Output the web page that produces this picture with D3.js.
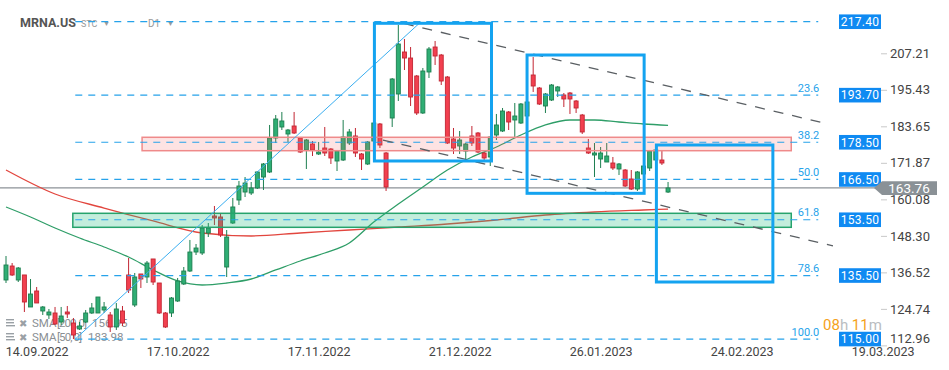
<!DOCTYPE html>
<html><head><meta charset="utf-8">
<script src="https://cdn.jsdelivr.net/npm/d3@7"></script>
<style>
body{margin:0;background:#fff;}
svg{display:block;font-family:Roboto,"Noto Sans",Arial,sans-serif;}
</style></head><body>
<svg id="chart" width="949" height="370"></svg>
<script>
// ---------- DATA ----------
const symbol = "MRNA.US";
const tickIndex  = [5, 28, 51, 74, 97, 120, 143];
const tickLabels = ["14.09.2022","17.10.2022","17.11.2022","21.12.2022","26.01.2023","24.02.2023","19.03.2023"];
const priceTicks = [207.21,195.43,183.65,171.87,160.08,148.30,136.52,124.74,112.96];

const open = [134.06,138.57,134.06,135.68,125.35,130.51,124.06,122.77,123.41,120.50,123.73,120.18,118.25,120.50,123.41,123.41,124.38,122.77,118.90,124.06,
135.68,125.99,136.00,135.03,140.84,133.09,123.41,123.41,127.28,132.77,
136.96,143.09,142.77,149.22,154.71,154.39,138.25,152.45,159.87,162.45,
162.13,163.75,167.29,168.91,179.88,183.43,181.17,183.75,179.88,176.01,
177.94,174.72,176.65,176.33,172.46,172.78,178.27,180.53,174.72,171.49,
178.91,184.40,175.04,186.33,194.08,207.63,205.69,199.89,187.95,201.18,
209.24,206.66,199.56,179.56,177.30,175.68,180.53,181.49,175.04,173.75,
180.85,182.14,188.27,185.69,184.72,186.98,200.21,196.01,190.21,192.14,
195.05,193.76,194.40,191.82,187.30,176.65,174.39,173.10,172.13,171.81,
169.88,169.55,166.65,163.42,168.26,170.20,172.78,172.78,162.45];
const high = [141.80,139.54,138.25,135.68,134.38,131.80,125.67,124.70,125.35,125.35,125.67,121.80,120.50,124.38,126.64,128.57,126.96,123.73,126.64,125.67,
141.16,136.32,136.00,140.19,140.84,133.09,123.73,128.57,134.71,138.25,
146.97,145.67,151.80,152.45,157.94,155.68,150.19,160.52,166.00,167.29,
165.68,169.23,171.81,184.08,187.30,188.27,182.79,188.27,180.20,179.56,
178.91,178.59,183.43,176.65,176.01,185.69,182.79,183.11,175.04,178.91,
185.04,184.72,175.36,199.24,216.34,211.83,209.24,200.21,202.47,209.24,
211.18,206.99,199.89,183.11,182.14,178.27,183.75,181.82,175.36,180.53,
187.63,189.56,188.59,191.17,191.17,191.82,206.02,196.34,194.40,197.30,
196.66,194.40,194.73,192.14,187.63,179.56,178.27,176.97,178.27,173.75,
171.81,169.88,169.55,169.23,171.17,176.01,176.97,176.01,165.68];
const low = [133.09,135.35,133.41,123.73,125.35,126.64,122.77,121.48,119.54,119.54,121.80,115.00,117.93,120.18,123.09,123.41,123.41,117.28,117.93,119.22,
129.86,125.35,131.48,133.09,132.44,123.09,118.57,122.12,126.96,132.44,
136.64,142.12,142.12,147.93,151.80,147.93,135.03,152.13,158.26,160.84,
161.49,163.42,163.10,168.59,178.27,182.46,178.59,181.17,175.04,169.88,
174.07,174.39,174.07,171.49,169.23,172.46,177.62,173.75,169.55,171.17,
178.59,176.65,162.78,183.43,191.82,201.82,190.21,187.30,187.63,199.24,
203.44,196.98,177.94,174.72,174.72,173.10,177.30,175.04,172.78,170.84,
179.23,181.82,182.46,179.88,184.40,186.66,194.73,190.53,187.95,191.82,
193.11,189.88,187.63,187.95,181.17,174.72,167.29,170.20,172.13,169.55,
167.94,164.07,163.10,162.78,167.94,169.23,172.46,171.17,162.13];
const close = [138.90,135.68,137.93,126.96,129.54,126.64,125.35,123.73,119.86,122.44,123.09,116.31,119.22,123.41,125.03,128.57,125.35,118.90,124.70,120.18,
130.83,135.03,134.38,139.54,133.41,123.41,118.90,128.25,133.74,136.96,
143.09,144.38,150.84,150.84,154.07,148.58,147.93,157.62,164.39,165.36,
163.75,168.91,171.49,179.88,186.01,185.37,182.46,181.49,175.36,179.23,
176.01,175.36,175.04,173.43,175.68,180.20,181.82,175.04,173.10,178.59,
184.72,177.62,164.07,198.92,210.21,205.69,193.11,187.95,201.50,208.60,
206.34,198.27,178.27,176.65,179.23,177.94,178.27,175.36,173.43,180.20,
184.08,188.59,185.04,186.98,190.85,191.50,196.66,190.85,194.08,196.98,
196.34,192.47,192.47,189.56,181.82,175.04,175.04,175.04,174.07,170.20,
171.49,164.39,163.42,168.91,170.84,175.68,176.01,171.81,163.76];

const sma50Idx = [0,4,8,12,16,20,24,28,32,36,40,44,48,52,56,60,64,68,72,76,80,84,88,92,96,100,104,108];
const sma50Val = [157.62,154.39,150.84,147.61,144.71,141.48,137.29,133.74,132.44,133.09,134.38,137.29,140.19,142.77,146.00,152.77,158.58,164.07,169.55,173.75,176.97,180.85,184.08,185.69,185.69,185.04,184.40,183.98];
const sma200Idx = [0,8,16,24,32,40,48,56,64,72,80,88,96,104,108];
const sma200Val = [169.55,161.81,157.29,153.10,149.23,148.26,149.23,150.19,151.16,152.13,153.42,155.03,156.00,156.65,156.95];

const fibLevels = [217.40,193.70,178.50,166.50,153.50,135.50,115.00];
const fibRatios = ["","23.6","38.2","50.0","61.8","78.6","100.0"];
const lastPrice = 163.76;

// annotations in (bar index, price) space
const fibStart = [11.3, 115.00], fibEnd = [67.7, 217.40], fibLineEnd = 132.5;
const trendUpper = [[64.9, 216.83],[134.1, 184.40]];
const trendLower = [[61.5, 179.23],[134.9, 145.10]];
const zoneRed   = [22.2, 128.1, 180.11, 175.78];
const zoneGreen = [10.9, 128.1, 155.58, 151.06];
const boxes = [[60.1, 79.2, 216.89, 172.46],[85.0, 104.1, 206.66, 162.03],[106.1, 125.1, 177.62, 133.41]];

// ---------- SCALES ----------
const svg = d3.select("#chart");
const x = d3.scaleLinear().domain([0, 143]).range([6, 882.6]);
const y = d3.scaleLinear().domain([112.76, 224.41]).range([346, 0]);

const GREEN = "#2fae74", GREEN_D = "#1d7f50", RED = "#f2404f", RED_D = "#c22633";
const FIB = "#26a2ea", BOX = "#14a3f0", LABEL = "#0f8af2";

// legend (under candles)
const leg = svg.append("g").attr("fill","#8a8f94").style("font-size","11.5px");
[["SMA","[200, 0]", sma200Val[sma200Val.length-1]],["SMA","[50, 0]", sma50Val[sma50Val.length-1]]].forEach((d,k)=>{
  const yy = 327 + k*14;
  const g = leg.append("g");
  for(let r=0;r<3;r++) g.append("rect").attr("x",6).attr("y",yy-8+r*3).attr("width",r==2?9:8).attr("height",1.4).attr("fill","#9aa0a5");
  g.append("text").attr("x",19).attr("y",yy).text("✖").style("font-size","10px").attr("fill","#9aa0a5");
  g.append("text").attr("x",32).attr("y",yy).text(d[0]);
  g.append("text").attr("x",57).attr("y",yy).text(d[1]).attr("textLength", k==0?30:25);
  g.append("text").attr("x",k==0?92:88).attr("y",yy).text(d[2].toFixed(2));
});

// title
const tg = svg.append("g").attr("fill","#999");
tg.append("text").attr("x",20).attr("y",27).text(symbol).attr("fill","#555").style("font-weight","bold").style("font-size","12.5px");
tg.append("text").attr("x",81).attr("y",27).text("STC").style("font-size","9px");
tg.append("text").attr("x",103).attr("y",26).text("▼").style("font-size","7px");
tg.append("text").attr("x",148).attr("y",27).text("D1").style("font-size","10px");
tg.append("text").attr("x",167).attr("y",26).text("▼").style("font-size","7px");

// current price line
svg.append("line").attr("x1",0).attr("x2",880).attr("y1",y(lastPrice)).attr("y2",y(lastPrice))
  .attr("stroke","#8c9297").attr("stroke-width",1.2);

// SMA lines
const line = d3.line().x(d=>x(d[0])).y(d=>y(d[1])).curve(d3.curveMonotoneX);
svg.append("path").attr("d", line(sma200Idx.map((v,k)=>[v,sma200Val[k]])))
  .attr("fill","none").attr("stroke","#e2463e").attr("stroke-width",1.3);
svg.append("path").attr("d", line(sma50Idx.map((v,k)=>[v,sma50Val[k]])))
  .attr("fill","none").attr("stroke","#2f9e68").attr("stroke-width",1.3);

// candles
const cg = svg.append("g");
open.forEach((o,i)=>{
  const c = close[i], up = c >= o;
  const col = up ? GREEN : RED, dk = up ? GREEN_D : RED_D;
  cg.append("line").attr("x1",x(i)).attr("x2",x(i)).attr("y1",y(high[i])).attr("y2",y(low[i]))
    .attr("stroke",dk).attr("stroke-width",1);
  const top = y(Math.max(o,c)), bot = y(Math.min(o,c));
  cg.append("rect").attr("x",x(i)-2).attr("width",4).attr("y",top).attr("height",Math.max(1,bot-top))
    .attr("fill",col).attr("stroke",dk).attr("stroke-width",0.9);
});

// zones (over candles, translucent)
[[zoneRed,"rgba(242,100,100,0.18)","#ef8a8a"],[zoneGreen,"rgba(40,190,130,0.28)","#26a36c"]].forEach(([z,f,s])=>{
  svg.append("rect").attr("x",x(z[0])).attr("width",x(z[1])-x(z[0])).attr("y",y(z[2])).attr("height",y(z[3])-y(z[2]))
    .attr("fill",f).attr("stroke",s).attr("stroke-width",1.5);
});

// fib levels
const fg = svg.append("g");
fibLevels.forEach((p,k)=>{
  fg.append("line").attr("x1",x(fibStart[0])).attr("x2",x(fibLineEnd)).attr("y1",y(p)).attr("y2",y(p))
    .attr("stroke",FIB).attr("stroke-width",1.2).attr("stroke-dasharray","7,6");
  if(fibRatios[k]) fg.append("text").attr("x",x(fibLineEnd)+1).attr("y",y(p)-3.5).attr("text-anchor","end")
    .attr("fill",FIB).style("font-size","11px").text(fibRatios[k]);
});
fg.append("line").attr("x1",x(fibStart[0])).attr("y1",y(fibStart[1])).attr("x2",x(fibEnd[0])).attr("y2",y(fibEnd[1]))
  .attr("stroke","#3aaef0").attr("stroke-width",1);

// trend lines
[trendUpper, trendLower].forEach(t=>{
  svg.append("line").attr("x1",x(t[0][0])).attr("y1",y(t[0][1])).attr("x2",x(t[1][0])).attr("y2",y(t[1][1]))
    .attr("stroke","#5a5f63").attr("stroke-width",1.3).attr("stroke-dasharray","10,9");
});

// boxes
boxes.forEach(b=>{
  svg.append("rect").attr("x",x(b[0])).attr("width",x(b[1])-x(b[0])).attr("y",y(b[2])).attr("height",y(b[3])-y(b[2]))
    .attr("fill","none").attr("stroke",BOX).attr("stroke-width",3);
});

// right axis
const ax = svg.append("g").attr("transform","translate(881,0)")
  .call(d3.axisRight(y).tickValues(priceTicks).tickSize(6).tickPadding(3).tickFormat(d3.format(".2f")));
ax.select(".domain").remove();
ax.selectAll(".tick line").attr("stroke","#c8c8c8");
ax.selectAll(".tick text").attr("fill","#444").style("font-size","13px").style("font-family","Roboto,Arial,sans-serif");
ax.selectAll(".tick").filter(d=>d===112.96).select("text").attr("dy","-0.2em");

// fib price labels
fibLevels.forEach(p=>{
  svg.append("rect").attr("x",839).attr("width",42).attr("y",y(p)-7.3).attr("height",14.6).attr("fill",LABEL);
  svg.append("text").attr("x",860).attr("y",y(p)).attr("dy","0.36em").attr("text-anchor","middle")
    .attr("fill","#fff").style("font-size","12px").style("letter-spacing","0.3px").text(p.toFixed(2));
});

// current price label
const yc = y(lastPrice);
svg.append("path").attr("d",`M874,${yc} L882,${yc-6.8} L937,${yc-6.8} L937,${yc+7} L882,${yc+7} Z`).attr("fill","#8a9196");
svg.append("text").attr("x",909).attr("y",yc).attr("dy","0.36em").attr("text-anchor","middle").attr("fill","#fff")
  .style("font-size","13.5px").text(lastPrice.toFixed(2));

// countdown
const cd = svg.append("text").attr("x",823).attr("y",329.5).style("font-size","15px");
cd.append("tspan").attr("fill","#f5a21b").text("08");
cd.append("tspan").attr("fill","#b9bdc1").text("h ");
cd.append("tspan").attr("fill","#f5a21b").text("11");
cd.append("tspan").attr("fill","#b9bdc1").text("m");

// x axis
const xa = svg.append("g").attr("transform","translate(0,343)")
  .call(d3.axisBottom(x).tickValues(tickIndex).tickSize(0).tickPadding(4).tickFormat((d,k)=>tickLabels[k]));
xa.select(".domain").remove();
xa.selectAll(".tick text").attr("fill","#444").style("font-size","12.5px").style("font-family","Roboto,Arial,sans-serif");
</script>
</body></html>
